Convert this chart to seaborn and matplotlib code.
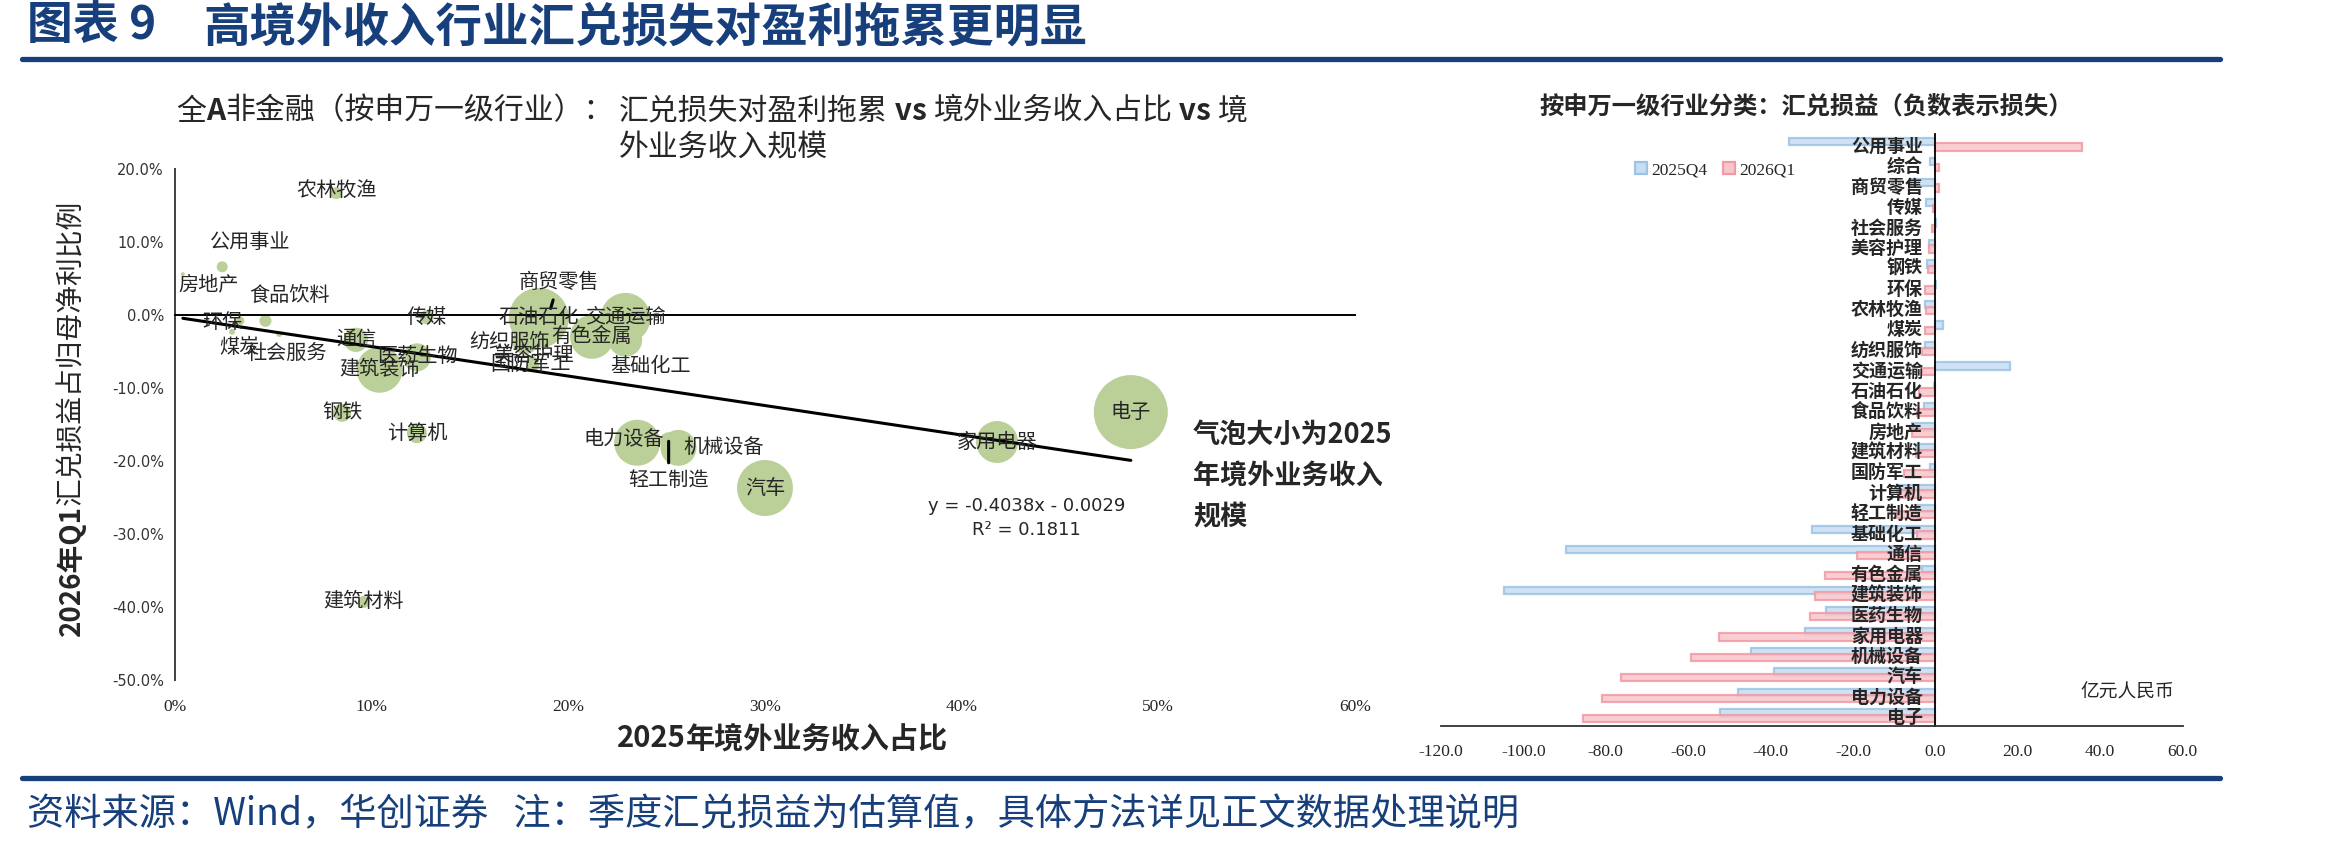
import numpy as np
import pandas as pd
import matplotlib.pyplot as plt
import seaborn as sns
from matplotlib.patches import Patch
from matplotlib.lines import Line2D
from matplotlib.ticker import FuncFormatter

sns.set_style('white')
plt.rcParams['font.family'] = ['Noto Sans CJK SC', 'DejaVu Sans']
plt.rcParams['axes.unicode_minus'] = False

# data: bubble chart (x = 2025 overseas revenue share %, y = 2026Q1 FX P&L / net profit %)
###############################################################################
industries = ['农林牧渔', '公用事业', '房地产', '食品饮料', '环保', '煤炭', '社会服务',
              '通信', '建筑装饰', '医药生物', '钢铁', '计算机', '传媒', '商贸零售',
              '石油石化', '交通运输', '纺织服饰', '有色金属', '美容护理', '国防军工',
              '基础化工', '电力设备', '机械设备', '轻工制造', '汽车', '电子', '家用电器',
              '建筑材料']
overseas_share = [8.2, 2.4, 0.4, 4.6, 3.3, 2.9, 5.3,
                  9.2, 10.4, 12.3, 8.5, 12.3, 12.8, 19.1,
                  18.5, 22.9, 17.8, 21.2, 18.2, 18.2,
                  22.9, 23.5, 25.6, 25.1, 30.0, 48.6, 41.8,
                  9.6]
fx_to_profit = [16.7, 6.6, 5.6, -0.8, -0.8, -2.3, -2.6,
                -3.4, -7.5, -5.8, -13.4, -16.2, -0.3, 0.9,
                -0.4, -0.4, -3.6, -3.0, -6.4, -6.9,
                -3.4, -17.5, -18.2, -17.3, -23.7, -13.3, -17.4,
                -39.3]
overseas_rev = [370, 310, 40, 370, 200, 90, 90,
                1500, 5400, 2000, 830, 1000, 500, 260,
                9200, 6400, 1700, 4900, 260, 370,
                2900, 5400, 3300, 830, 8000, 14000, 4500,
                370]
trend_slope = -0.4038
trend_intercept = -0.0029
trend_r2 = 0.1811

# data: FX gains/losses by SW level-1 industry (100m RMB)
###############################################################################
bar_industries = ['公用事业', '综合', '商贸零售', '传媒', '社会服务', '美容护理', '钢铁',
                  '环保', '农林牧渔', '煤炭', '纺织服饰', '交通运输', '石油石化', '食品饮料',
                  '房地产', '建筑材料', '国防军工', '计算机', '轻工制造', '基础化工', '通信',
                  '有色金属', '建筑装饰', '医药生物', '家用电器', '机械设备', '汽车',
                  '电力设备', '电子']
fx_2025q4 = [-35.6, -1.2, -6.0, -2.2, 0.2, -1.5, -2.0,
             0.2, -2.5, 1.8, -2.5, 18.1, -0.3, -2.8,
             -5.6, -4.6, -1.2, -9.3, -4.2, -29.9, -89.6,
             -3.2, -104.7, -26.5, -31.6, -44.8, -39.2,
             -47.8, -52.2]
fx_2026q1 = [35.5, 1.0, 1.0, -0.5, -0.7, -1.5, -1.8,
             -2.4, -2.3, -2.5, -3.2, -3.3, -4.0, -4.4,
             -5.6, -4.6, -7.6, -8.8, -9.3, -4.5, -19.0,
             -26.7, -29.1, -30.5, -52.5, -59.2, -76.4,
             -81.0, -85.6]
quarters = ['2025Q4', '2026Q1']

# layout helpers (reference is 2327 x 847 px)
###############################################################################
W, H = 2327, 847
def fx(px):
    return px / W
def fy(py):
    return 1 - py / H

navy = '#163F7C'
green = '#BBD098'
blue_fill, blue_edge = '#C7DDF1', '#9DC3E6'
red_fill, red_edge = '#F9C6CB', '#F09AA4'

fig = plt.figure(figsize=(W / 100, H / 100), dpi=100)
renderer = fig.canvas.get_renderer()

def text_pieces(pieces, x0, y0, vertical=False, **kw):
    # write a run of text pieces with different weights one after another
    x, y = x0, y0
    for txt, weight in pieces:
        t = fig.text(fx(x), fy(y), txt, fontweight=weight, rotation=90 if vertical else 0,
                     rotation_mode='anchor', ha='left', va='center', **kw)
        bb = t.get_window_extent(renderer)
        if vertical:
            y -= bb.height
        else:
            x += bb.width

# header / footer
fig.text(fx(27), fy(27), '图表 9', fontsize=33, fontweight='bold', color=navy, va='center')
fig.text(fx(203), fy(27), '高境外收入行业汇兑损失对盈利拖累更明显', fontsize=33.5,
         fontweight='bold', color=navy, va='center')
for yy in (59, 778):
    fig.add_artist(Line2D([fx(22), fx(2220)], [fy(yy), fy(yy)], color=navy, lw=3.8,
                          transform=fig.transFigure))
fig.text(fx(27), fy(815), '资料来源：Wind，华创证券   注：季度汇兑损益为估算值，具体方法详见正文数据处理说明',
         fontsize=26.8, color=navy, style='italic', va='center')

# Bubble chart
###############################################################################
ax = fig.add_axes([fx(175), fy(680), fx(1355) - fx(175), fy(169) - fy(680)])
df_sc = pd.DataFrame({'industry': industries, 'share': overseas_share,
                      'ratio': fx_to_profit, 'rev': overseas_rev})
sns.scatterplot(data=df_sc, x='share', y='ratio', size='rev', sizes=(0, 2840),
                size_norm=(0, max(overseas_rev)), color=green, linewidth=0, alpha=1,
                legend=False, ax=ax, zorder=2)

xs = np.array([min(overseas_share), max(overseas_share)])
ax.plot(xs, (trend_slope * xs / 100 + trend_intercept) * 100, color='black', lw=2.2, zorder=3)

label_xy = {'农林牧渔': (8.2, 17.0), '公用事业': (3.8, 10.0), '房地产': (1.7, 4.1),
            '食品饮料': (5.8, 2.7), '环保': (2.4, -1.0), '煤炭': (3.3, -4.5),
            '社会服务': (5.7, -5.3), '通信': (9.2, -3.4), '建筑装饰': (10.4, -7.5),
            '医药生物': (12.3, -5.7), '钢铁': (8.5, -13.4), '计算机': (12.3, -16.2),
            '传媒': (12.8, -0.3), '商贸零售': (19.5, 4.5), '石油石化': (18.5, -0.3),
            '交通运输': (22.9, -0.4), '纺织服饰': (17.0, -3.8), '有色金属': (21.2, -3.0),
            '美容护理': (18.2, -5.6), '国防军工': (18.1, -6.8), '基础化工': (24.2, -7.1),
            '电力设备': (22.8, -17.1), '机械设备': (27.9, -18.2), '轻工制造': (25.1, -22.7),
            '汽车': (30.0, -23.7), '电子': (48.6, -13.3), '家用电器': (41.8, -17.4),
            '建筑材料': (9.6, -39.2)}
leaders = ['商贸零售', '轻工制造']
for name, sx, sy in zip(industries, overseas_share, fx_to_profit):
    lx, ly = label_xy[name]
    if name in leaders:
        ax.annotate(name, xy=(sx, sy), xytext=(lx, ly), ha='center', va='center',
                    fontsize=14.5, zorder=4,
                    arrowprops=dict(arrowstyle='-', color='black', lw=2.2, shrinkA=3, shrinkB=0))
    else:
        ax.text(lx, ly, name, ha='center', va='center', fontsize=14.5, zorder=4)

ax.set_xlim(0, 60)
ax.set_ylim(-50, 20)
ax.set_xlabel('')
ax.set_ylabel('')
ax.set_axisbelow(False)
for sp in ('top', 'right'):
    ax.spines[sp].set_visible(False)
ax.spines['bottom'].set_position(('data', 0))
ax.spines['bottom'].set_linewidth(1.4)
ax.spines['bottom'].set_color('black')
ax.spines['left'].set_linewidth(1.4)
ax.spines['left'].set_color('#404040')
ax.set_xticks(range(0, 61, 10))
ax.tick_params(axis='x', direction='inout', length=7, width=1.2, labelbottom=False)
ax.set_yticks(range(-50, 21, 10))
ax.yaxis.set_major_formatter(FuncFormatter(lambda v, p: f'{v:.1f}%'))
ax.tick_params(axis='y', direction='out', length=5, width=1.2, labelsize=10.5,
               labelcolor='#333333', pad=3)
for lab in ax.get_yticklabels():
    lab.set_fontfamily('DejaVu Sans')

sec = ax.secondary_xaxis('bottom')
sec.set_xticks(range(0, 61, 10))
sec.xaxis.set_major_formatter(FuncFormatter(lambda v, p: f'{v:.0f}%'))
sec.tick_params(length=0, pad=14, labelsize=12.5)
sec.spines['bottom'].set_visible(False)
for lab in sec.get_xticklabels():
    lab.set_fontfamily('Liberation Serif')

ax.text(43.3, -27.8,
        f'y = {trend_slope:.4f}x - {abs(trend_intercept):.4f}\nR² = {trend_r2:.4f}',
        ha='center', va='center', fontsize=13, family='DejaVu Sans', linespacing=1.4)
fig.text(fx(1193), fy(476), '气泡大小为2025\n年境外业务收入\n规模', fontsize=19.5,
         fontweight='bold', ha='left', va='center', linespacing=1.6)

# axis titles and chart title
text_pieces([('2026年Q1', 'bold'), ('汇兑损益占归母净利比例', 'normal')], 71, 636,
            vertical=True, fontsize=20)
text_pieces([('2025', 'bold'), ('年境外业务收入占比', 'bold')], 617, 738, fontsize=21)
text_pieces([('全', 'normal'), ('A', 'bold'), ('非金融（按申万一级行业）：', 'normal')],
            176, 111, fontsize=21.5)
text_pieces([('汇兑损失对盈利拖累', 'normal'), (' vs ', 'bold'), ('境外业务收入占比', 'normal'),
             (' vs ', 'bold'), ('境', 'normal')], 619, 111, fontsize=21.5)
text_pieces([('外业务收入规模', 'normal')], 619, 148, fontsize=21.5)

# Bar chart
###############################################################################
ax2 = fig.add_axes([fx(1441), fy(726), fx(2182.5) - fx(1441), fy(134) - fy(726)])
df_bar = pd.DataFrame({'industry': bar_industries * 2,
                       'quarter': [quarters[0]] * len(bar_industries) + [quarters[1]] * len(bar_industries),
                       'value': fx_2025q4 + fx_2026q1})
sns.barplot(data=df_bar, x='value', y='industry', hue='quarter', order=bar_industries,
            hue_order=quarters, palette=dict(zip(quarters, [blue_fill, red_fill])),
            orient='h', width=0.56, dodge=True, errorbar=None, legend=False, ax=ax2)
for cont, fc, ec in zip(ax2.containers, [blue_fill, red_fill], [blue_edge, red_edge]):
    for bar in cont:
        c = bar.get_y() + bar.get_height() / 2
        bar.set_y(c - 0.18)
        bar.set_height(0.36)
        bar.set_facecolor(fc)
        bar.set_edgecolor(ec)
        bar.set_linewidth(1.6)
        bar.set_alpha(0.85)

ax2.set_xlim(-120, 60)
ax2.set_ylim(len(bar_industries) - 0.5, -0.5)
ax2.set_xlabel('')
ax2.set_ylabel('')
ax2.set_axisbelow(False)
for sp in ('top', 'right'):
    ax2.spines[sp].set_visible(False)
ax2.spines['left'].set_position(('data', 0))
ax2.spines['left'].set_color('black')
ax2.spines['left'].set_linewidth(1.3)
ax2.spines['bottom'].set_color('#333333')
ax2.spines['bottom'].set_linewidth(1.3)
ax2.set_xticks(range(-120, 61, 20))
ax2.xaxis.set_major_formatter(FuncFormatter(lambda v, p: f'{v:.1f}'))
ax2.tick_params(axis='x', direction='out', length=7, width=1.2, labelsize=12.5, pad=6)
for lab in ax2.get_xticklabels():
    lab.set_fontfamily('Liberation Serif')
ax2.set_yticks(np.arange(-0.5, len(bar_industries), 1), minor=True)
ax2.tick_params(axis='y', which='major', length=0, pad=9, labelsize=13)
ax2.tick_params(axis='y', which='minor', direction='out', length=5, width=1.2)
for lab in ax2.get_yticklabels():
    lab.set_fontweight('bold')

fig.text(fx(1806), fy(108), '按申万一级行业分类：汇兑损益（负数表示损失）', fontsize=17.5,
         fontweight='bold', ha='center', va='center')
handles = [Patch(facecolor=blue_fill, edgecolor=blue_edge, lw=1.6),
           Patch(facecolor=red_fill, edgecolor=red_edge, lw=1.6)]
fig.legend(handles, quarters, loc='center', bbox_to_anchor=(fx(1715), fy(170)), ncol=2,
           frameon=False, prop={'family': 'Liberation Serif', 'size': 12.5},
           handlelength=0.7, handleheight=0.7, handletextpad=0.25, columnspacing=0.9)
fig.text(fx(2127), fy(692), '亿元人民币', fontsize=13.5, ha='center', va='center')

plt.savefig('out.png', dpi=100)
